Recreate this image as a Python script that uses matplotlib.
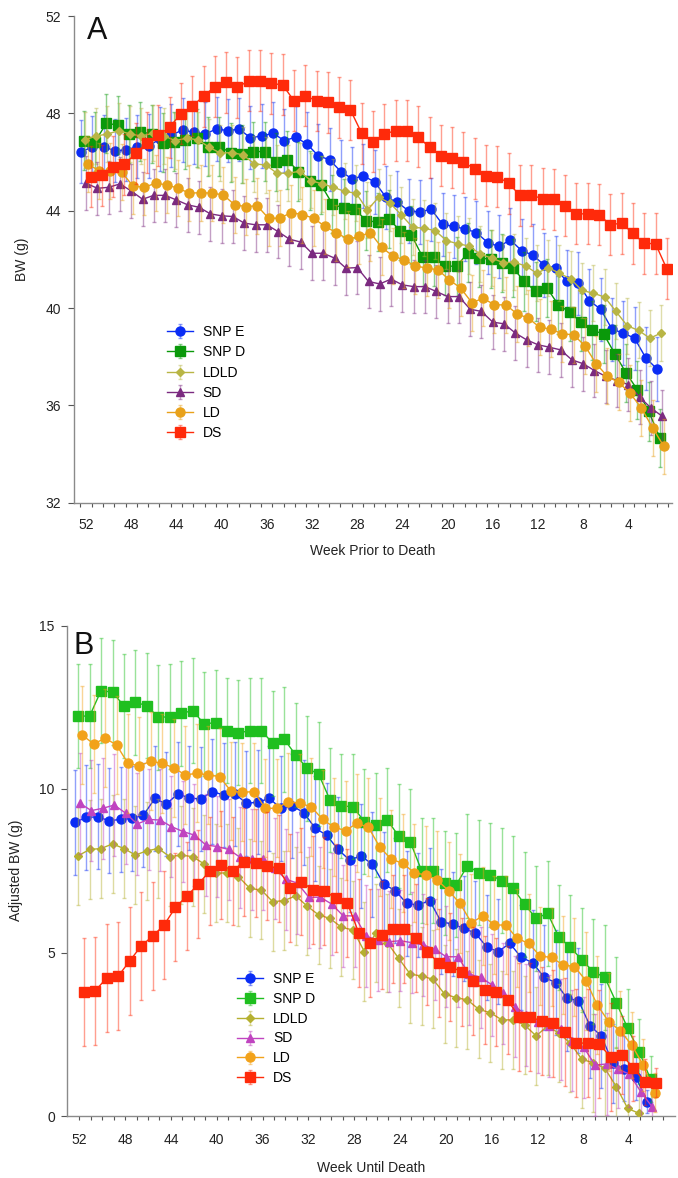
import numpy as np
import matplotlib
import matplotlib.pyplot as plt
from matplotlib.colors import to_rgba

plt.rcParams['font.family'] = ['Liberation Sans', 'DejaVu Sans']

# ------------------ DATA ------------------
series = ["SNP E", "SNP D", "LDLD", "SD", "LD", "DS"]

weeks_a = list(range(52, 0, -1))   # 52 .. 1
weeks_b = list(range(52, 1, -1))   # 52 .. 2

# Panel A: body weight (g)
snpe_a = [46.43, 46.60, 46.63, 46.46, 46.50, 46.63, 46.66, 46.95, 47.10, 47.32, 47.22, 47.15, 47.36,
          47.29, 47.35, 47.00, 47.07, 47.18, 46.88, 47.02, 46.74, 46.26, 46.09, 45.61, 45.31, 45.43,
          45.18, 44.55, 44.35, 43.99, 43.95, 44.06, 43.44, 43.35, 43.25, 43.10, 42.69, 42.53, 42.80,
          42.36, 42.17, 41.77, 41.64, 41.09, 41.02, 40.30, 39.95, 39.13, 38.97, 38.76, 37.94, 37.49]
snpd_a = [46.88, 46.84, 47.59, 47.52, 47.15, 47.25, 47.15, 46.80, 46.84, 46.91, 46.98, 46.63, 46.63,
          46.39, 46.33, 46.43, 46.43, 45.99, 46.09, 45.61, 45.24, 45.06, 44.28, 44.10, 44.06, 43.59,
          43.53, 43.66, 43.18, 43.00, 42.09, 42.09, 41.73, 41.71, 42.28, 42.05, 42.01, 41.84, 41.64,
          41.09, 40.68, 40.82, 40.13, 39.83, 39.42, 39.08, 38.94, 38.12, 37.33, 36.64, 35.75, 34.66]
ldld_a = [46.91, 47.07, 47.15, 47.29, 47.15, 47.07, 47.18, 47.07, 46.88, 46.98, 46.91, 46.61, 46.36,
          46.39, 46.29, 45.92, 45.88, 45.54, 45.54, 45.62, 45.24, 45.10, 44.96, 44.79, 44.72, 44.03,
          44.55, 44.31, 43.83, 43.32, 43.28, 43.18, 42.77, 42.64, 42.55, 42.21, 42.05, 41.87, 41.88,
          41.73, 41.43, 41.66, 41.43, 41.19, 40.72, 40.61, 40.45, 39.86, 39.27, 39.08, 38.76, 38.97]
sd_a = [45.13, 44.92, 44.96, 45.10, 44.81, 44.47, 44.63, 44.63, 44.44, 44.24, 44.14, 43.87, 43.79,
        43.76, 43.49, 43.42, 43.42, 43.14, 42.83, 42.71, 42.25, 42.25, 42.05, 41.64, 41.66, 41.09,
        40.99, 41.19, 40.95, 40.88, 40.88, 40.68, 40.47, 40.47, 39.95, 39.86, 39.42, 39.35, 38.97,
        38.69, 38.49, 38.39, 38.28, 37.87, 37.71, 37.43, 37.19, 37.02, 36.85, 36.34, 35.89, 35.55]
ld_a = [45.91, 45.65, 45.62, 45.58, 45.02, 44.96, 45.13, 45.06, 44.92, 44.72, 44.74, 44.72, 44.65,
        44.24, 44.17, 44.20, 43.69, 43.69, 43.92, 43.84, 43.69, 43.35, 43.10, 42.83, 42.94, 43.10,
        42.50, 42.14, 41.98, 41.73, 41.64, 41.57, 41.16, 40.82, 40.22, 40.40, 40.13, 40.13, 39.76,
        39.58, 39.21, 39.13, 38.94, 38.90, 38.45, 37.71, 37.19, 36.94, 36.50, 35.89, 35.07, 34.31]
ds_a = [45.40, 45.45, 45.80, 45.90, 46.36, 46.80, 47.10, 47.43, 47.99, 48.30, 48.70, 49.10, 49.28,
        49.07, 49.34, 49.34, 49.23, 49.17, 48.52, 48.73, 48.51, 48.45, 48.25, 48.14, 47.18, 46.84,
        47.15, 47.29, 47.29, 47.04, 46.60, 46.26, 46.18, 45.98, 45.73, 45.44, 45.40, 45.13, 44.63,
        44.63, 44.50, 44.47, 44.20, 43.87, 43.87, 43.84, 43.42, 43.49, 43.07, 42.66, 42.64, 41.61]
err_a = [1.30, 1.20, 1.15, 1.10, 1.15, 1.25]

# Panel B: adjusted body weight (g)
snpe_b = [8.98, 9.13, 9.15, 9.03, 9.07, 9.10, 9.20, 9.71, 9.54, 9.85, 9.73, 9.69, 9.92, 9.82, 9.85,
          9.56, 9.60, 9.71, 9.41, 9.48, 9.28, 8.80, 8.59, 8.15, 7.83, 7.95, 7.70, 7.09, 6.89, 6.50,
          6.45, 6.59, 5.94, 5.87, 5.74, 5.59, 5.16, 5.03, 5.28, 4.85, 4.69, 4.24, 4.08, 3.60, 3.53,
          2.76, 2.45, 1.61, 1.45, 1.20, 0.44]
snpd_b = [12.23, 12.23, 13.01, 12.96, 12.54, 12.65, 12.55, 12.19, 12.21, 12.31, 12.40, 11.99, 12.03,
          11.78, 11.72, 11.78, 11.78, 11.40, 11.52, 11.04, 10.63, 10.46, 9.66, 9.48, 9.46, 9.00,
          8.90, 9.05, 8.56, 8.39, 7.50, 7.50, 7.12, 7.06, 7.65, 7.44, 7.37, 7.20, 6.96, 6.47, 6.04,
          6.20, 5.46, 5.16, 4.77, 4.41, 4.24, 3.47, 2.68, 1.97, 1.12]
ldld_b = [7.96, 8.15, 8.18, 8.32, 8.18, 7.98, 8.11, 8.18, 7.93, 7.98, 7.93, 7.71, 7.42, 7.44, 7.32,
          6.96, 6.91, 6.55, 6.59, 6.73, 6.42, 6.15, 6.04, 5.77, 5.69, 5.03, 5.59, 5.30, 4.82, 4.34,
          4.28, 4.18, 3.73, 3.62, 3.55, 3.26, 3.16, 2.94, 2.94, 2.78, 2.45, 2.75, 2.53, 2.22, 1.73,
          1.63, 1.46, 0.90, 0.23, 0.08, np.nan]
sd_b = [9.56, 9.34, 9.41, 9.51, 9.26, 8.93, 9.07, 9.05, 8.85, 8.70, 8.59, 8.29, 8.24, 8.15, 7.91,
        7.85, 7.85, 7.57, 7.24, 7.12, 6.69, 6.69, 6.48, 6.12, 6.12, 5.50, 5.38, 5.33, 5.36, 5.30,
        5.23, 5.10, 4.87, 4.87, 4.34, 4.24, 4.01, 3.75, 3.34, 3.09, 2.88, 2.75, 2.65, 2.30, 2.10,
        1.56, 1.59, 1.43, 1.28, 0.74, 0.27]
ld_b = [11.65, 11.38, 11.55, 11.35, 10.78, 10.71, 10.85, 10.78, 10.65, 10.43, 10.48, 10.43, 10.38,
        9.93, 9.90, 9.92, 9.41, 9.41, 9.61, 9.56, 9.46, 9.07, 8.83, 8.73, 8.95, 8.83, 8.22, 7.85,
        7.73, 7.44, 7.37, 7.22, 6.89, 6.50, 5.91, 6.12, 5.84, 5.84, 5.43, 5.28, 4.89, 4.85, 4.62,
        4.57, 4.14, 3.39, 2.88, 2.61, 2.17, 1.56, 0.71]
ds_b = [3.80, 3.83, 4.23, 4.28, 4.74, 5.20, 5.50, 5.84, 6.38, 6.73, 7.09, 7.50, 7.68, 7.50, 7.78,
        7.75, 7.65, 7.57, 6.96, 7.17, 6.91, 6.89, 6.66, 6.52, 5.61, 5.28, 5.54, 5.71, 5.71, 5.43,
        5.03, 4.67, 4.57, 4.41, 4.14, 3.85, 3.80, 3.55, 3.04, 3.02, 2.91, 2.83, 2.58, 2.24, 2.22,
        2.20, 1.81, 1.87, 1.46, 1.05, 1.02]
err_b = [1.60, 1.60, 1.50, 1.55, 1.50, 1.65]
# error bars get shorter over the last four weeks (weeks 5..2)
err_b_tail = [[1.2, 1.0, 0.7, 0.35],
              [1.4, 1.2, 1.0, 0.7],
              [1.2, 1.0, 0.8, 0.5],
              [1.2, 1.0, 0.8, 0.4],
              [1.2, 1.0, 0.8, 0.6],
              [1.2, 1.0, 0.7, 0.45]]

# ------------------ STYLE ------------------
colors_a = ["#0a2cf5", "#0a990a", "#b8b545", "#7b2a80", "#e8a11a", "#ff2a0a"]
colors_b = ["#0a2cf5", "#1fbf1f", "#b5b030", "#c044c0", "#f2a21a", "#ff2a0a"]
markers = ["o", "s", "D", "^", "o", "s"]
msizes = [6.5, 6.5, 4.3, 6.0, 6.5, 7.0]
offs_a = [-0.45, -0.2, -0.1, 0.0, 0.15, 0.4]
offs_b = [-0.4, -0.1, -0.1, 0.05, 0.25, 0.4]

W, H = 678, 1178
fig = plt.figure(figsize=(W / 100, H / 100), dpi=100)


def px_axes(l, r, t, b):
    return fig.add_axes([l / W, 1 - b / H, (r - l) / W, (b - t) / H])


def style_axes(ax, half_ticks):
    for s in ["top", "right"]:
        ax.spines[s].set_visible(False)
    for s in ["left", "bottom"]:
        ax.spines[s].set_color("#8a8a8a")
        ax.spines[s].set_linewidth(1.0)
    ax.set_xticks(list(range(52, 0, -4)))
    if half_ticks:
        ax.set_xticks(np.arange(52.5, 0, -1), minor=True)
        ax.tick_params(axis="x", which="major", length=0, pad=11)
    else:
        ax.set_xticks(list(range(52, 0, -1)), minor=True)
        ax.tick_params(axis="x", which="major", length=3, pad=9)
    ax.tick_params(axis="x", which="minor", length=3, color="#555555", width=0.8)
    ax.tick_params(axis="x", which="major", color="#555555", width=0.8, labelsize=10, labelcolor="#222222")
    ax.tick_params(axis="y", length=4, color="#555555", width=0.8, labelsize=10, labelcolor="#222222", pad=5)


def draw(ax, weeks, data, errs, colors, offs):
    for i, name in enumerate(series):
        x = np.array(weeks) - offs[i]
        c = colors[i]
        ax.errorbar(x, data[i], yerr=errs[i], fmt=markers[i] + "-", color=c, ms=msizes[i],
                    mec=c, mfc=c, lw=1.0, elinewidth=1.0, capsize=1.5, capthick=1.0,
                    ecolor=to_rgba(c, 0.45), label=name, zorder=2 + i)


# ------------------ PANEL A ------------------
axA = px_axes(73.6, 672, 16, 502.7)
data_a = [snpe_a, snpd_a, ldld_a, sd_a, ld_a, ds_a]
draw(axA, weeks_a, data_a, err_a, colors_a, offs_a)
axA.set_xlim(53.1, 0.14)
axA.set_ylim(32, 52)
axA.set_yticks([32, 36, 40, 44, 48, 52])
style_axes(axA, True)
axA.set_xlabel("Week Prior to Death", fontsize=10, color="#222222", labelpad=9)
axA.set_ylabel("BW (g)", fontsize=10, color="#222222", labelpad=12)
axA.text(96.7 / W, 1 - 31 / H, "A", transform=fig.transFigure, fontsize=22,
         ha="center", va="center", color="#111111")
axA.legend(loc="upper left", bbox_to_anchor=(0.1556, 0.365), frameon=False, fontsize=10,
           handlelength=1.9, handletextpad=0.7, labelspacing=0.45, borderpad=0, borderaxespad=0)

# ------------------ PANEL B ------------------
axB = px_axes(67.3, 675, 625.5, 1116)
data_b = [snpe_b, snpd_b, ldld_b, sd_b, ld_b, ds_b]
errs_b = [np.array([err_b[i]] * (len(weeks_b) - 4) + err_b_tail[i]) for i in range(len(series))]
draw(axB, weeks_b, data_b, errs_b, colors_b, offs_b)
axB.set_xlim(53.05, -0.03)
axB.set_ylim(0, 15)
axB.set_yticks([0, 5, 10, 15])
style_axes(axB, False)
axB.set_xlabel("Week Until Death", fontsize=10, color="#222222", labelpad=10)
axB.set_ylabel("Adjusted BW (g)", fontsize=10, color="#222222", labelpad=12)
axB.text(84 / W, 1 - 646 / H, "B", transform=fig.transFigure, fontsize=22,
         ha="center", va="center", color="#111111")
axB.legend(loc="upper left", bbox_to_anchor=(0.279, 0.2936), frameon=False, fontsize=10,
           handlelength=1.9, handletextpad=0.7, labelspacing=0.42, borderpad=0, borderaxespad=0)

fig.savefig("out.png", dpi=100)
